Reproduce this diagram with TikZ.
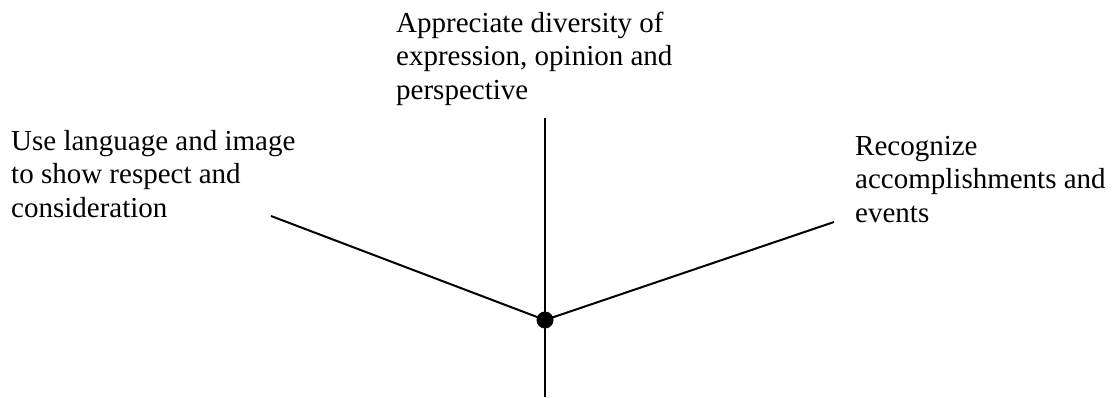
\documentclass[tikz,border=0pt]{standalone}
\usepackage{fontspec}
\setmainfont{Liberation Serif}
\usetikzlibrary{positioning}
\definecolor{ink}{HTML}{000000}

\begin{document}
\begin{tikzpicture}[x=1pt,y=-1pt,font=\fontsize{29}{33.5}\selectfont,
    lbl/.style={anchor=base west,align=left,inner sep=0pt,text=ink},
    spoke/.style={draw=ink,line width=2pt}]
    \useasboundingbox (0,0) rectangle (1114,397);

    % the three goals (anchored at the baseline of their last line)
    \node[lbl] (diversity) at (396,99) {Appreciate diversity of\\expression, opinion and\\perspective};
    \node[lbl] (respect) at (11,217) {Use language and image\\to show respect and\\consideration};
    \node[lbl] (events) at (855,222) {Recognize\\accomplishments and\\events};

    % the hub and its spokes
    \node[circle,fill=ink,minimum size=17pt,inner sep=0pt] (hub) at (545,320) {};
    \coordinate (upend) at (545,118);
    \coordinate (downend) at (545,397);
    \coordinate (leftend) at (271,216);
    \coordinate (rightend) at (834,222);
    \foreach \e in {upend,downend,leftend,rightend}
      \draw[spoke] (hub.center) -- (\e);
\end{tikzpicture}
\end{document}
